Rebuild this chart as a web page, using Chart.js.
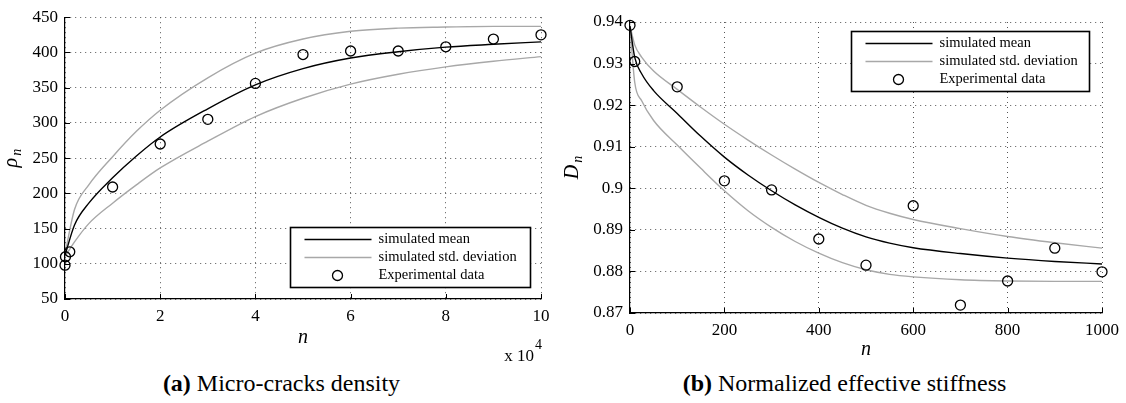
<!DOCTYPE html>
<html>
<head>
<meta charset="utf-8">
<script src="https://cdn.jsdelivr.net/npm/chart.js@4.4.1/dist/chart.umd.min.js"></script>
<style>
html, body { margin: 0; padding: 0; background: #fff; }
#fig { position: relative; width: 1126px; height: 403px; overflow: hidden; font-family: 'Liberation Serif', serif; color: #000; }
.panel { position: absolute; top: 0; width: 563px; height: 365px; }
.cap { position: absolute; top: 368px; width: 563px; text-align: center; font-size: 24px; line-height: 30px; }
</style>
</head>
<body>
<div id="fig">
  <div class="panel" style="left:0"><canvas id="cracks" width="563" height="365"></canvas></div>
  <div class="panel" style="left:563px"><canvas id="stiff" width="563" height="365"></canvas></div>
  <div class="cap" style="left:0"><b>(a)</b> Micro-cracks density</div>
  <div class="cap" style="left:563px"><b>(b)</b> Normalized effective stiffness</div>
</div>
<script>
// (a) micro-cracks density, n in cycles (axis shown x 10^4)
const rhoCurveN = [0, 2000, 5000, 10000, 15000, 20000, 30000, 40000, 50000, 60000, 70000, 80000, 90000, 100000];
const rhoMean   = [112, 155, 186, 222, 253, 280, 320, 354, 377, 392, 401, 407.5, 411.5, 415];
const rhoUpper  = [114, 177, 212, 252, 288, 318, 364, 399, 419, 430, 434.5, 436, 437, 437];
const rhoLower  = [110, 131, 157, 186, 212, 236, 274, 309, 335, 355, 369, 379.5, 387.5, 394];
const rhoExpN   = [0, 100, 1000, 10000, 20000, 30000, 40000, 50000, 60000, 70000, 80000, 90000, 100000];
const rhoExp    = [98, 110, 117, 209, 270, 305, 356, 397, 402, 402, 408, 419, 425];
const rhoTicksY = [50, 450, 50];      // min, max, step
const rhoTicksX = [0, 100000, 20000];

// (b) normalized effective stiffness
const stiffCurveN = [0, 10, 25, 50, 100, 150, 200, 250, 300, 350, 400, 450, 500, 550, 600, 700, 800, 900, 1000];
const stiffMean   = [0.939, 0.9315, 0.9275, 0.9235, 0.918, 0.9125, 0.9075, 0.9032, 0.8994, 0.896, 0.893, 0.8904, 0.8883, 0.8868, 0.8857, 0.8843, 0.8832, 0.8824, 0.8818];
const stiffUpper  = [0.939, 0.9345, 0.9315, 0.9282, 0.9238, 0.9195, 0.9154, 0.9116, 0.908, 0.9046, 0.9014, 0.8985, 0.8959, 0.894, 0.8925, 0.8903, 0.8884, 0.8869, 0.8856];
const stiffLower  = [0.939, 0.9255, 0.921, 0.9163, 0.9104, 0.9048, 0.8994, 0.8946, 0.8906, 0.8872, 0.8844, 0.8821, 0.8804, 0.8793, 0.8787, 0.878, 0.8777, 0.8776, 0.8776];
const stiffExpN   = [0, 10, 100, 200, 300, 400, 500, 600, 700, 800, 900, 1000];
const stiffExp    = [0.9392, 0.9305, 0.9244, 0.9018, 0.8996, 0.8878, 0.8815, 0.8958, 0.8719, 0.8777, 0.8856, 0.8799];
const stiffTicksY = [0.87, 0.94, 0.01];
const stiffTicksX = [0, 1000, 200];

const LABELS = ['simulated mean', 'simulated std. deviation', 'Experimental data'];
const FONT = "'Liberation Serif', 'Times New Roman', serif";
const GRAY = '#a8a8a8';

function pts(xs, ys) { return xs.map((v, i) => ({ x: v, y: ys[i] })); }

// axis titles, inward ticks, legend inside the axes, exponent label
const decor = {
  id: 'decor',
  afterDraw(chart, args, o) {
    const { ctx, chartArea: a, scales: { x, y } } = chart;
    ctx.save();
    ctx.strokeStyle = '#000';
    ctx.lineWidth = 1;
    ctx.beginPath();
    x.ticks.forEach(t => {
      const px = Math.round(x.getPixelForValue(t.value)) + 0.5;
      ctx.moveTo(px, a.bottom); ctx.lineTo(px, a.bottom - 5);
    });
    y.ticks.forEach(t => {
      const py = Math.round(y.getPixelForValue(t.value)) + 0.5;
      ctx.moveTo(a.left, py); ctx.lineTo(a.left + 5, py);
    });
    ctx.stroke();

    ctx.fillStyle = '#000';
    ctx.textBaseline = 'middle';
    ctx.textAlign = 'center';
    ctx.font = 'italic 20px ' + FONT;
    ctx.fillText('n', (a.left + a.right) / 2, o.xTitleY);

    // y title with subscript n
    ctx.save();
    ctx.translate(o.yTitleX, (a.top + a.bottom) / 2);
    ctx.rotate(-Math.PI / 2);
    ctx.textAlign = 'left';
    ctx.font = 'italic 20px ' + FONT;
    const w1 = ctx.measureText(o.yTitle).width;
    ctx.font = 'italic 14px ' + FONT;
    const w2 = ctx.measureText('n').width;
    const sx = -(w1 + w2 + 2) / 2;
    ctx.font = 'italic 20px ' + FONT;
    ctx.fillText(o.yTitle, sx, 0);
    ctx.font = 'italic 14px ' + FONT;
    ctx.fillText('n', sx + w1 + 2, 5);
    ctx.restore();

    if (o.exponent) {
      ctx.textAlign = 'right';
      ctx.font = '17px ' + FONT;
      ctx.textBaseline = 'alphabetic';
      ctx.fillText('x 10', a.right - 7, o.exponentY);
      ctx.textAlign = 'left';
      ctx.font = '14px ' + FONT;
      ctx.fillText(o.exponent, a.right - 6, o.exponentY - 12);
    }

    // legend box
    const L = o.legend;
    const bx = Math.round(a.right - L.right - L.w) + 0.5;
    const by = Math.round(L.top != null ? a.top + L.top : a.bottom - L.bottom - L.h) + 0.5;
    ctx.fillStyle = '#fff';
    ctx.fillRect(bx, by, L.w, L.h);
    ctx.strokeStyle = '#000';
    ctx.lineWidth = 1.6;
    ctx.strokeRect(bx, by, L.w, L.h);
    ctx.font = '14.5px ' + FONT;
    ctx.textAlign = 'left';
    ctx.textBaseline = 'middle';
    const rows = [12, 30, 48];
    LABELS.forEach((lab, i) => {
      const ry = by + rows[i];
      if (i < 2) {
        ctx.strokeStyle = i === 0 ? '#000' : GRAY;
        ctx.lineWidth = 1.4;
        ctx.beginPath(); ctx.moveTo(bx + 14, ry); ctx.lineTo(bx + 81, ry); ctx.stroke();
      } else {
        ctx.strokeStyle = '#000';
        ctx.lineWidth = 1.3;
        ctx.beginPath(); ctx.arc(bx + 47, ry, 5, 0, Math.PI * 2); ctx.stroke();
      }
      ctx.fillStyle = '#000';
      ctx.fillText(lab, bx + 88, ry);
    });
    ctx.restore();
  }
};

function makeChart(id, d) {
  const lineDs = (data, color, order) => ({
    data, borderColor: color, borderWidth: 1.4, pointRadius: 0,
    showLine: true, cubicInterpolationMode: 'monotone', order
  });
  return new Chart(document.getElementById(id), {
    type: 'scatter',
    data: {
      datasets: [
        lineDs(pts(d.curveN, d.mean), '#000', 1),
        lineDs(pts(d.curveN, d.upper), GRAY, 2),
        lineDs(pts(d.curveN, d.lower), GRAY, 2),
        {
          data: pts(d.expN, d.exp), showLine: false, order: 0, clip: false,
          pointRadius: 5, pointHoverRadius: 5, pointBorderWidth: 1.3,
          borderColor: '#000', backgroundColor: 'rgba(0,0,0,0)'
        }
      ]
    },
    options: {
      responsive: false,
      animation: false,
      layout: { padding: { top: d.padTop, right: d.padRight, left: 0, bottom: 0 } },
      plugins: {
        legend: { display: false },
        tooltip: { enabled: false },
        decor: d.decor
      },
      scales: {
        x: {
          type: 'linear', min: d.ticksX[0], max: d.ticksX[1],
          afterFit: s => { s.height = d.xHeight; },
          ticks: {
            stepSize: d.ticksX[2], autoSkip: false, maxRotation: 0, padding: 7,
            color: '#000', font: { family: FONT, size: 17 }, callback: d.xLabel
          },
          grid: { color: '#555', lineWidth: 1, drawTicks: false },
          border: { display: true, color: '#000', width: 1.2, dash: [1, 4] }
        },
        y: {
          type: 'linear', min: d.ticksY[0], max: d.ticksY[1],
          afterFit: s => { s.width = d.yWidth; },
          ticks: {
            stepSize: d.ticksY[2], autoSkip: false, padding: 7,
            color: '#000', font: { family: FONT, size: 17 }, callback: d.yLabel
          },
          grid: { color: '#555', lineWidth: 1, drawTicks: false },
          border: { display: true, color: '#000', width: 1.2, dash: [1, 4] }
        }
      }
    },
    plugins: [decor]
  });
}

makeChart('cracks', {
  curveN: rhoCurveN, mean: rhoMean, upper: rhoUpper, lower: rhoLower,
  expN: rhoExpN, exp: rhoExp, ticksX: rhoTicksX, ticksY: rhoTicksY,
  padTop: 7, padRight: 22, xHeight: 66, yWidth: 65,
  xLabel: v => String(v / 1e4),
  yLabel: v => String(v),
  decor: { yTitle: 'ρ', yTitleX: 12, xTitleY: 338, exponent: '4', exponentY: 361,
           legend: { right: 11, bottom: 12, w: 240, h: 60 } }
});

makeChart('stiff', {
  curveN: stiffCurveN, mean: stiffMean, upper: stiffUpper, lower: stiffLower,
  expN: stiffExpN, exp: stiffExp, ticksX: stiffTicksX, ticksY: stiffTicksY,
  padTop: 22, padRight: 21, xHeight: 52, yWidth: 67,
  xLabel: v => String(v),
  yLabel: v => String(+v.toFixed(2)),
  decor: { yTitle: 'D', yTitleX: 10, xTitleY: 350,
           legend: { right: 13, top: 9, w: 238, h: 60 } }
});
</script>
</body>
</html>
